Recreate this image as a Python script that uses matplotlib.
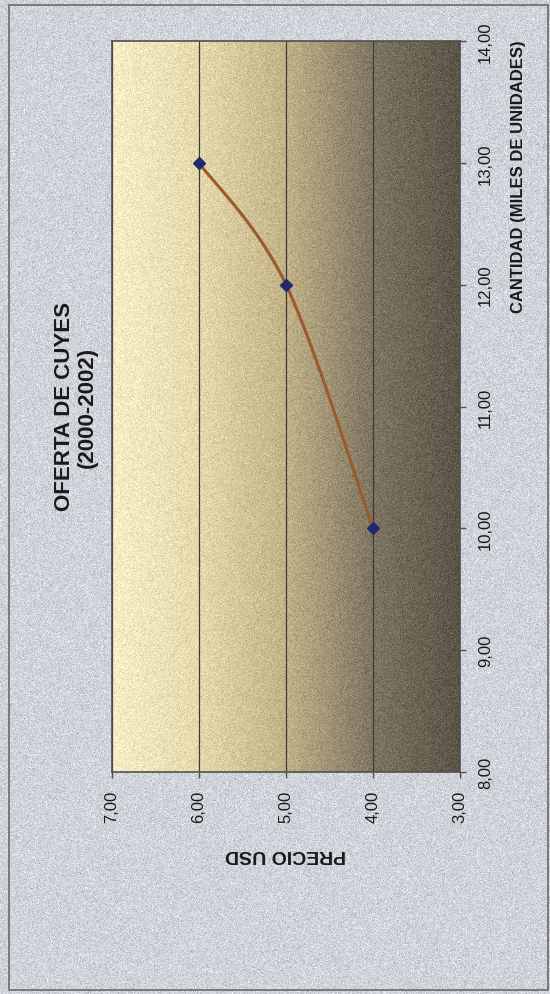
import numpy as np
import matplotlib
matplotlib.use("Agg")
import matplotlib.pyplot as plt
from matplotlib.patches import Rectangle

plt.rcParams['font.family'] = ['Liberation Sans', 'DejaVu Sans']

# supply of guinea pigs: price (USD) vs quantity (thousand units)
precio = [4.0, 5.0, 6.0]
cantidad = [10.0, 12.0, 13.0]
precio_ticks = [7.0, 6.0, 5.0, 4.0, 3.0]
cantidad_ticks = [8.0, 9.0, 10.0, 11.0, 12.0, 13.0, 14.0]

titulo = "OFERTA DE CUYES\n(2000-2002)"
label_precio = "PRECIO USD"
label_cantidad = "CANTIDAD (MILES DE UNIDADES)"

W, H = 550, 995
rng = np.random.default_rng(7)


def coma(v):
    return f"{v:.2f}".replace(".", ",")


def catmull_rom(xs, ys, n=60):
    # smooth curve through the points, like a spreadsheet "smoothed line"
    px = np.r_[xs[0], xs, xs[-1]]
    py = np.r_[ys[0], ys, ys[-1]]
    outx, outy = [], []
    t = np.linspace(0, 1, n)
    for i in range(1, len(px) - 2):
        for p, out in ((px, outx), (py, outy)):
            p0, p1, p2, p3 = p[i - 1], p[i], p[i + 1], p[i + 2]
            out.append(0.5 * ((2 * p1) + (-p0 + p2) * t
                              + (2 * p0 - 5 * p1 + 4 * p2 - p3) * t ** 2
                              + (-p0 + 3 * p1 - 3 * p2 + p3) * t ** 3))
    return np.concatenate(outx), np.concatenate(outy)


fig = plt.figure(figsize=(W / 100, H / 100), dpi=100)

# grainy grey page behind the chart
bg = fig.add_axes([0, 0, 1, 1])
base = np.array([208, 212, 218]) / 255.0
tex = base + rng.normal(0, 0.05, (H, W, 1))
bg.imshow(np.clip(tex, 0, 1), extent=(0, W, 0, H), aspect='auto', interpolation='nearest')
bg.add_patch(Rectangle((9, 4), W - 11, H - 10, fill=False, ec='#6a6a6a', lw=1.2))
bg.set_xlim(0, W)
bg.set_ylim(0, H)
bg.axis('off')

ax = fig.add_axes([112 / W, 1 - 773 / H, 348 / W, 731 / H])
ax.set_xlim(7, 3)
ax.set_ylim(8, 14)

# plot area shading: cream on the high-price side, dark olive on the low side
stops = [0.0, 0.25, 0.5, 0.75, 1.0]
cols = np.array([[246, 238, 200], [230, 218, 172], [194, 178, 136],
                 [126, 117, 97], [90, 85, 72]]) / 255.0
gw, gh = 350, 730
s = np.linspace(0, 1, gw)
grad = np.stack([np.interp(s, stops, cols[:, k]) for k in range(3)], axis=-1)
grad = np.repeat(grad[None, :, :], gh, axis=0)
grad = grad + rng.normal(0, 0.04, (gh, gw, 1))
ax.imshow(np.clip(grad, 0, 1), extent=(7, 3, 8, 14), aspect='auto',
          interpolation='nearest', zorder=0)

ax.grid(axis='x', color='#3c3c3c', lw=0.9, zorder=1)
ax.grid(axis='y', visible=False)

cx, cy = catmull_rom(np.array(precio), np.array(cantidad))
ax.plot(cx, cy, color='#9c5a2c', lw=2.2, zorder=3, solid_capstyle='round')
ax.plot(precio, cantidad, ls='none', marker='D', ms=6.5, color='#1f2a6e',
        mec='#1f2a6e', zorder=4)

for sp in ax.spines.values():
    sp.set_color('#505050')
    sp.set_linewidth(1.2)

ax.yaxis.tick_right()
ax.set_yticks(cantidad_ticks)
ax.set_yticklabels([coma(v) for v in cantidad_ticks], rotation=90, va='center')
ax.set_xticks(precio_ticks)
ax.set_xticklabels([coma(v) for v in precio_ticks], rotation=90)
ax.tick_params(axis='both', length=4, width=1, color='#505050', labelsize=12,
               labelcolor='#1a1a1a', pad=9)

fig.text(286 / W, 1 - 855 / H, label_precio, rotation=180, ha='center', va='center',
         fontsize=14, fontweight='bold', color='#1a1a1a')
fig.text(518 / W, 1 - 177 / H, label_cantidad, rotation=90, ha='center', va='center',
         fontsize=12, fontweight='bold', color='#1a1a1a')
fig.text(76 / W, 1 - 407 / H, titulo, rotation=90, ha='center', va='center',
         multialignment='center', fontsize=16, fontweight='bold', color='#1a1a1a',
         linespacing=1.1)

fig.savefig("out.png", dpi=100)
